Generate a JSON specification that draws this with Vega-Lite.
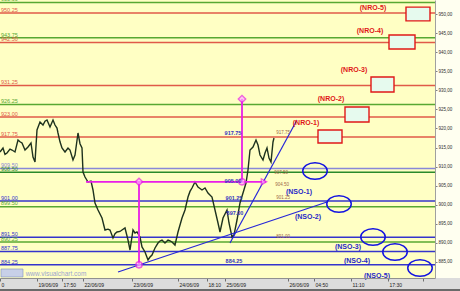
{
  "$schema": "https://vega.github.io/schema/vega-lite/v6.json",
  "width": 435,
  "height": 278,
  "autosize": {"type": "none"},
  "padding": {"left": 0, "top": 0, "right": 25, "bottom": 13},
  "background": "#FFFFF0",
  "view": {"fill": "#FFFFC4", "stroke": null},
  "config": {"font": "Liberation Sans", "axis": {"grid": false, "labelOverlap": false, "labelBound": false, "labelFlush": false}},
  "resolve": {"axis": {"x": "independent", "y": "independent"}},
  "datasets": {
    "price": [
      {"t":0,"v":913.83},{"t":3,"v":914.88},{"t":5,"v":913.2},{"t":7,"v":913.57},{"t":10,"v":914.6},{"t":12,"v":914.35},{"t":15,"v":913.83},{"t":18,"v":916.97},{"t":20,"v":916.5},{"t":22,"v":916.19},{"t":25,"v":914.35},{"t":28,"v":915.14},{"t":31,"v":916.19},{"t":33,"v":912.52},{"t":35,"v":911.21},{"t":37,"v":919.59},{"t":40,"v":921.69},{"t":43,"v":920.9},{"t":45,"v":921.9},{"t":47,"v":922.22},{"t":50,"v":920.38},{"t":53,"v":922.22},{"t":55,"v":920.9},{"t":57,"v":920.12},{"t":58,"v":918.81},{"t":60,"v":916.5},{"t":62,"v":914.88},{"t":65,"v":913.83},{"t":68,"v":914.88},{"t":70,"v":914.35},{"t":73,"v":911.73},{"t":75,"v":913.04},{"t":78,"v":918.81},{"t":80,"v":916.0},{"t":82,"v":914.88},{"t":83,"v":908.59},{"t":85,"v":907.27},{"t":88,"v":905.96},{"t":91,"v":906.2},{"t":93,"v":903.87},{"t":95,"v":900.46},{"t":98,"v":898.62},{"t":102,"v":896.53},{"t":105,"v":893.38},{"t":108,"v":893.6},{"t":110,"v":893.38},{"t":113,"v":891.29},{"t":115,"v":892.4},{"t":117,"v":892.86},{"t":120,"v":893.0},{"t":122,"v":893.38},{"t":125,"v":893.91},{"t":128,"v":890.76},{"t":130,"v":888.14},{"t":133,"v":893.38},{"t":135,"v":892.6},{"t":137,"v":892.86},{"t":140,"v":891.55},{"t":142,"v":888.93},{"t":145,"v":887.62},{"t":148,"v":885.52},{"t":150,"v":886.3},{"t":152,"v":886.83},{"t":155,"v":888.66},{"t":158,"v":889.97},{"t":160,"v":890.5},{"t":162,"v":890.76},{"t":165,"v":889.97},{"t":168,"v":890.76},{"t":170,"v":890.5},{"t":172,"v":890.24},{"t":175,"v":889.45},{"t":178,"v":892.86},{"t":182,"v":896.53},{"t":185,"v":898.62},{"t":188,"v":902.03},{"t":190,"v":903.5},{"t":192,"v":904.39},{"t":195,"v":905.96},{"t":198,"v":904.65},{"t":202,"v":903.87},{"t":205,"v":904.39},{"t":208,"v":903.08},{"t":212,"v":902.03},{"t":215,"v":898.62},{"t":218,"v":895.22},{"t":220,"v":892.86},{"t":223,"v":896.53},{"t":227,"v":898.62},{"t":229,"v":895.22},{"t":232,"v":891.55},{"t":234,"v":892.07},{"t":237,"v":896.0},{"t":240,"v":900.46},{"t":243,"v":903.08},{"t":246,"v":905.7},{"t":248,"v":909.11},{"t":250,"v":914.35},{"t":253,"v":915.14},{"t":256,"v":916.97},{"t":258,"v":915.66},{"t":260,"v":913.04},{"t":263,"v":911.73},{"t":265,"v":913.57},{"t":267,"v":914.88},{"t":269,"v":912.25},{"t":271,"v":911.21},{"t":273,"v":916.45},{"t":274,"v":917.5}
    ],
    "levels": [
      {"v":953.0,"k":"G"},{"v":950.25,"k":"R"},{"v":943.75,"k":"G"},{"v":942.5,"k":"R"},{"v":931.25,"k":"R"},{"v":926.25,"k":"G"},{"v":923.0,"k":"R"},{"v":917.75,"k":"R"},{"v":909.5,"k":"Sm"},{"v":908.5,"k":"Gm"},{"v":901.0,"k":"S"},{"v":899.5,"k":"G"},{"v":891.5,"k":"S"},{"v":890.25,"k":"G"},{"v":887.75,"k":"S"},{"v":884.25,"k":"S"}
    ],
    "trend": [
      {"id":"A","t":118,"v":882.37},{"id":"A","t":327,"v":900.72},
      {"id":"B","t":230,"v":889.97},{"id":"B","t":297,"v":922.2}
    ],
    "nro": [
      {"name":"(NRO-5)","t":406,"t2":430,"v":948.2,"v2":951.8,"lt":373,"lv":951.49},
      {"name":"(NRO-4)","t":389,"t2":415,"v":940.83,"v2":944.5,"lt":370,"lv":945.62},
      {"name":"(NRO-3)","t":371,"t2":394,"v":929.55,"v2":933.49,"lt":354,"lv":935.32},
      {"name":"(NRO-2)","t":345,"t2":369,"v":921.69,"v2":925.62,"lt":331,"lv":927.64},
      {"name":"(NRO-1)","t":318,"t2":342,"v":916.19,"v2":919.59,"lt":306,"lv":921.51}
    ],
    "nso": [
      {"name":"(NSO-1)","t":315,"v":908.85,"lt":299,"lv":903.42},
      {"name":"(NSO-2)","t":339,"v":900.2,"lt":308,"lv":896.87},
      {"name":"(NSO-3)","t":373,"v":891.55,"lt":348,"lv":889.0},
      {"name":"(NSO-4)","t":395,"v":887.62,"lt":357,"lv":885.33},
      {"name":"(NSO-5)","t":420,"v":883.42,"lt":377,"lv":881.4}
    ],
    "bluelab": [
      {"t":233,"v":918.81,"s":"917.75"},{"t":233,"v":906.2,"s":"905.00"},{"t":234,"v":901.77,"s":"901.25"},{"t":235,"v":897.84,"s":"897.00"},{"t":234,"v":885.26,"s":"884.25"}
    ],
    "brownlab": [
      {"t":283,"v":918.81,"s":"917.75"},{"t":281,"v":908.24,"s":"907.50"},{"t":282,"v":905.18,"s":"904.50"},{"t":283,"v":901.77,"s":"901.25"},{"t":283,"v":891.55,"s":"891.00"}
    ],
    "magenta": [
      {"t":86,"t2":266,"v":906,"v2":906},
      {"t":139,"t2":139,"v":906,"v2":884.25},
      {"t":242,"t2":242,"v":927.7,"v2":906}
    ]
  },
  "layer": [
    {
      "data": {"values":[{"t":0,"t2":460,"v":880.8,"v2":877.3}]},
      "mark": {"type":"rect","fill":"#DCDCDC"},
      "encoding": {
        "x": {"field":"t","type":"quantitative","title":null,"scale":{"domain":[0,435],"nice":false,"zero":false},
          "axis":{"title":null,"grid":false,"zindex":1,"values":[0,37,62,83,132,178,207,225,288,314,351,388,423],
            "labelExpr":"datum.value==0?'0':datum.value==37?'19/06/09':datum.value==62?'17:50':datum.value==83?'22/06/09':datum.value==132?'23/06/09':datum.value==178?'24/06/09':datum.value==207?'18:10':datum.value==225?'25/06/09':datum.value==288?'26/06/09':datum.value==314?'04:50':datum.value==351?'11:10':datum.value==388?'17:30':''",
            "labelAlign":"left","labelOffset":1,"labelFontSize":5,"labelColor":"#202020","labelPadding":1,"tickSize":3,"tickColor":"#707070","domainColor":"#909090","labelFlush":false,"labelOverlap":false,"labelBound":false}},
        "x2": {"field":"t2"},
        "y": {"field":"v","type":"quantitative","title":null,"scale":{"domain":[880.8,953.67],"nice":false,"zero":false},
          "axis":{"title":null,"orient":"right","grid":false,"zindex":1,"values":[885,890,895,900,905,910,915,920,925,930,935,940,945,950],
            "labelExpr":"replace(format(datum.value,'.2f'),'.',',')","labelFontSize":4.5,"labelColor":"#303030","labelPadding":1,"tickSize":2,"tickColor":"#808080","domainColor":"#A0A0A0","labelOverlap":false,"labelBound":false,"labelFlush":false}},
        "y2": {"field":"v2"}
      }
    },
    {
      "data": {"values":[{"t":0,"t2":460,"v":877.9,"v2":877.3}]},
      "mark": {"type":"rect","fill":"#6A6A6A"},
      "encoding": {
        "x": {"field":"t","type":"quantitative","axis":null},
        "x2": {"field":"t2"},
        "y": {"field":"v","type":"quantitative","axis":null},
        "y2": {"field":"v2"}
      }
    },
    {
      "data": {"name":"levels"},
      "mark": {"type":"rule"},
      "encoding": {
        "x": {"datum":0,"type":"quantitative","axis":null},
        "x2": {"datum":435},
        "y": {"field":"v","type":"quantitative","axis":null},
        "color": {"field":"k","type":"nominal","legend":null,"scale":{"domain":["R","G","S","Sm","Gm"],"range":["#E05A48","#58A832","#3434CC","#8888D8","#2A8A2A"]}},
        "strokeWidth": {"field":"k","type":"ordinal","legend":null,"scale":{"domain":["R","G","S","Sm","Gm"],"range":[1.5,1.5,1.2,2,2]}}
      }
    },
    {
      "data": {"name":"levels"},
      "mark": {"type":"text","align":"left","baseline":"bottom","dy":-0.3,"fontSize":5.5},
      "encoding": {
        "x": {"datum":1,"type":"quantitative","axis":null},
        "y": {"field":"v","type":"quantitative","axis":null},
        "text": {"field":"v","format":".2f"},
        "color": {"field":"k","type":"nominal","legend":null}
      }
    },
    {
      "data": {"values":[{"t":1,"t2":23,"v":883.16,"v2":881.07}]},
      "mark": {"type":"rect","fill":"#C8D0E8","stroke":"#8090C0","strokeWidth":0.6},
      "encoding": {
        "x": {"field":"t","type":"quantitative","axis":null},
        "x2": {"field":"t2"},
        "y": {"field":"v","type":"quantitative","axis":null},
        "y2": {"field":"v2"}
      }
    },
    {
      "data": {"values":[{"t":56,"v":881.92,"s":"www.visualchart.com"}]},
      "mark": {"type":"text","fontSize":6.5,"color":"#9CA4D0","align":"center","baseline":"middle"},
      "encoding": {
        "x": {"field":"t","type":"quantitative","axis":null},
        "y": {"field":"v","type":"quantitative","axis":null},
        "text":{"field":"s"}
      }
    },
    {
      "data": {"name":"price"},
      "mark": {"type":"line","color":"#1E321E","strokeWidth":1.4},
      "encoding": {
        "x": {"field":"t","type":"quantitative","axis":null},
        "y": {"field":"v","type":"quantitative","axis":null}
      }
    },
    {
      "data": {"name":"trend"},
      "mark": {"type":"line","color":"#2626D8","strokeWidth":1.2},
      "encoding": {
        "x": {"field":"t","type":"quantitative","axis":null},
        "y": {"field":"v","type":"quantitative","axis":null},
        "detail":{"field":"id"}
      }
    },
    {
      "data": {"name":"magenta"},
      "mark": {"type":"rule","color":"#E81EE8","strokeWidth":1.8},
      "encoding": {
        "x": {"field":"t","type":"quantitative","axis":null},
        "x2": {"field":"t2"},
        "y": {"field":"v","type":"quantitative","axis":null},
        "y2": {"field":"v2"}
      }
    },
    {
      "data": {"values":[{"t":264,"v":906}]},
      "mark": {"type":"point","shape":"triangle-right","size":40,"filled":true,"fill":"#FFB0FF","stroke":"#E81EE8","strokeWidth":1.2},
      "encoding": {
        "x": {"field":"t","type":"quantitative","axis":null},
        "y": {"field":"v","type":"quantitative","axis":null}
      }
    },
    {
      "data": {"values":[{"t":139,"v":906},{"t":242,"v":927.7}]},
      "mark": {"type":"point","shape":"diamond","size":55,"filled":true,"fill":"#FFB0FF","stroke":"#E81EE8","strokeWidth":1.4},
      "encoding": {
        "x": {"field":"t","type":"quantitative","axis":null},
        "y": {"field":"v","type":"quantitative","axis":null}
      }
    },
    {
      "data": {"values":[{"t":139,"v":884.25},{"t":242,"v":906}]},
      "mark": {"type":"point","shape":"circle","size":40,"filled":true,"fill":"#FFB0FF","stroke":"#E81EE8","strokeWidth":1.4},
      "encoding": {
        "x": {"field":"t","type":"quantitative","axis":null},
        "y": {"field":"v","type":"quantitative","axis":null}
      }
    },
    {
      "data": {"name":"nro"},
      "mark": {"type":"rect","fill":"#E6FAEE","stroke":"#E01818","strokeWidth":1.4},
      "encoding": {
        "x": {"field":"t","type":"quantitative","axis":null},
        "x2": {"field":"t2"},
        "y": {"field":"v","type":"quantitative","axis":null},
        "y2": {"field":"v2"}
      }
    },
    {
      "data": {"name":"nro"},
      "mark": {"type":"text","fontSize":7,"fontWeight":"bold","color":"#E01818","align":"center","baseline":"middle"},
      "encoding": {
        "x":{"field":"lt","type":"quantitative","axis":null},
        "y":{"field":"lv","type":"quantitative","axis":null},
        "text":{"field":"name"}
      }
    },
    {
      "data": {"name":"nso"},
      "mark": {"type":"point","shape":"M-1,0A1,0.67,0,1,0,1,0A1,0.67,0,1,0,-1,0Z","size":600,"filled":false,"stroke":"#1414E0","strokeWidth":1.5,"opacity":1},
      "encoding": {
        "x": {"field":"t","type":"quantitative","axis":null},
        "y": {"field":"v","type":"quantitative","axis":null}
      }
    },
    {
      "data": {"name":"nso"},
      "mark": {"type":"text","fontSize":7,"fontWeight":"bold","color":"#2828C8","align":"center","baseline":"middle"},
      "encoding": {
        "x":{"field":"lt","type":"quantitative","axis":null},
        "y":{"field":"lv","type":"quantitative","axis":null},
        "text":{"field":"name"}
      }
    },
    {
      "data": {"name":"bluelab"},
      "mark": {"type":"text","fontSize":5.5,"fontWeight":"bold","color":"#3434C0","align":"center","baseline":"middle"},
      "encoding": {
        "x": {"field":"t","type":"quantitative","axis":null},
        "y": {"field":"v","type":"quantitative","axis":null},
        "text":{"field":"s"}
      }
    },
    {
      "data": {"name":"brownlab"},
      "mark": {"type":"text","fontSize":4.5,"color":"#A0684A","align":"center","baseline":"middle"},
      "encoding": {
        "x": {"field":"t","type":"quantitative","axis":null},
        "y": {"field":"v","type":"quantitative","axis":null},
        "text":{"field":"s"}
      }
    }
  ]
}
